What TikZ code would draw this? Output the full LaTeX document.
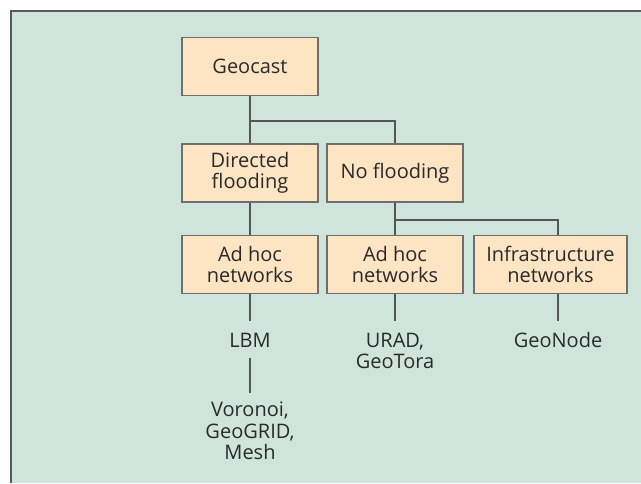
\documentclass[tikz,border=0pt]{standalone}
\usepackage{fontspec}
\setmainfont{Open Sans}
\definecolor{panelfill}{HTML}{CFE5DC}
\definecolor{panelrule}{HTML}{5A5A5A}
\definecolor{boxfill}{HTML}{FDE4C3}
\definecolor{boxrule}{HTML}{6E6E6E}
\definecolor{wire}{HTML}{555555}
\definecolor{ink}{HTML}{2A2A2A}
\begin{document}
\begin{tikzpicture}[x=1pt,y=-1pt,
  catbox/.style={draw=boxrule, fill=boxfill, line width=1.3pt, minimum width=136pt,
    minimum height=58pt, inner sep=0pt, align=center, text=ink,
    font=\fontsize{20}{20.5}\selectfont},
  leaf/.style={inner sep=1pt, align=center, text=ink, font=\fontsize{20}{21.5}\selectfont},
  link/.style={draw=wire, line width=1.1pt}]
  % canvas and panel
  \useasboundingbox (0,0) rectangle (641,483);
  \fill[white] (0,0) rectangle (641,483);
  \fill[panelfill] (11,11) rectangle (641,483);
  \draw[panelrule, line width=2pt] (11,483) -- (11,11) -- (641,11);

  % boxes
  \node[catbox] (geo) at (250,66.5) {Geocast};
  \node[catbox] (dir) at (250,173) {Directed\\flooding};
  \node[catbox] (nof) at (395,173) {No flooding};
  \node[catbox] (ah1) at (250,264.5) {Ad hoc\\networks};
  \node[catbox] (ah2) at (395,264.5) {Ad hoc\\networks};
  \node[catbox, minimum width=153pt] (inf) at (550.5,264.5) {Infrastructure\\networks};

  % leaf labels
  \node[leaf] (lbm) at (250,340) {LBM};
  \node[leaf] (vor) at (250,431) {Voronoi,\\GeoGRID,\\Mesh};
  \node[leaf] (urad) at (395,351) {URAD,\\GeoTora};
  \node[leaf] (gnode) at (558,340) {GeoNode};

  % junctions
  \coordinate (j1) at (250,121);
  \coordinate (j2) at (395,220);

  % connectors
  \draw[link] (geo.south) -- (dir.north);
  \draw[link] (j1) -| (nof.north);
  \draw[link] (dir.south) -- (ah1.north);
  \draw[link] (nof.south) -- (ah2.north);
  \draw[link] (j2) -- (558,220) -- (inf.north -| gnode);
  \draw[link] (ah1.south) -- (250,321);
  \draw[link] (ah2.south) -- (395,321);
  \draw[link] (inf.south -| gnode) -- (558,321);
  \draw[link] (250,358) -- (250,393);
\end{tikzpicture}
\end{document}
